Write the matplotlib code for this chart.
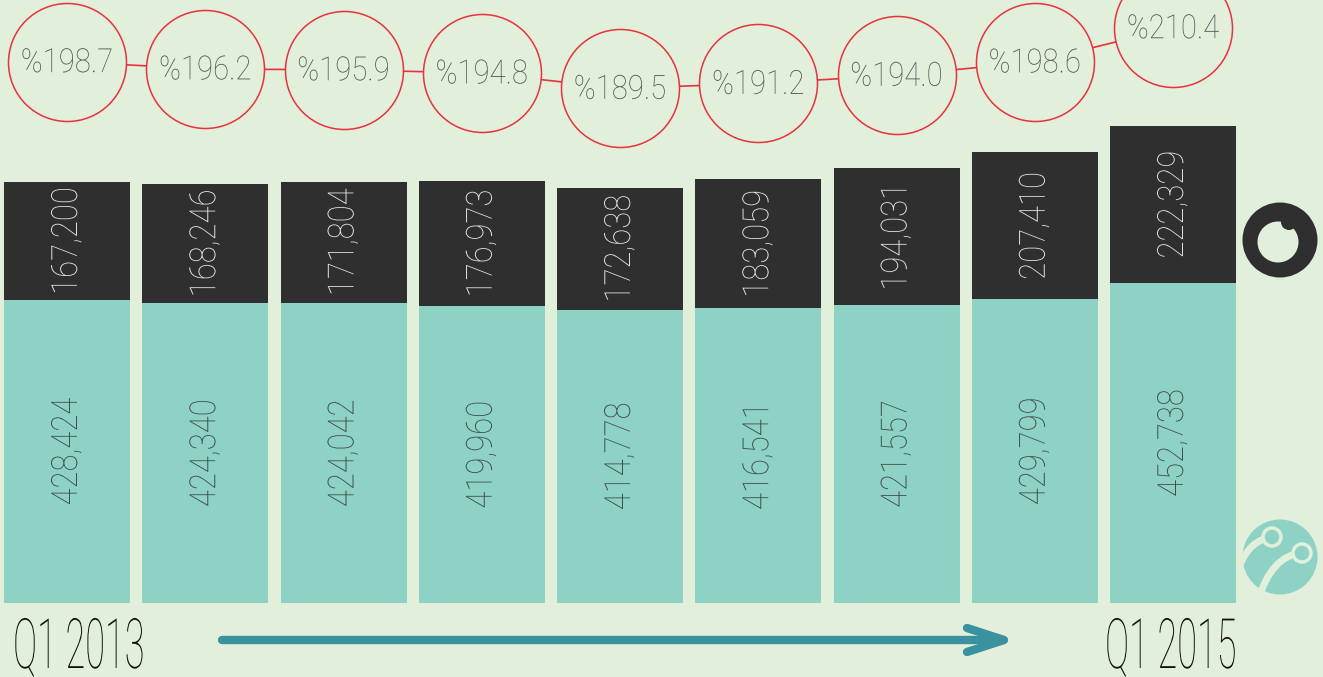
import matplotlib
matplotlib.use("Agg")
import matplotlib.pyplot as plt
from matplotlib.patches import Circle, PathPatch
from matplotlib.path import Path
from matplotlib.patheffects import AbstractPathEffect
from matplotlib.transforms import Affine2D

# ---- data ----
quarters = ['Q1 2013', 'Q2 2013', 'Q3 2013', 'Q4 2013', 'Q1 2014',
            'Q2 2014', 'Q3 2014', 'Q4 2014', 'Q1 2015']
turkcell = [428424, 424340, 424042, 419960, 414778, 416541, 421557, 429799, 452738]
vodafone = [167200, 168246, 171804, 176973, 172638, 183059, 194031, 207410, 222329]
ratio = [198.7, 196.2, 195.9, 194.8, 189.5, 191.2, 194.0, 198.6, 210.4]

BG = '#e2efda'
TEAL = '#8dd2c5'
DARK = '#2f2f2f'
RED = '#e8323e'
GREY = '#555a56'
ARROW = '#3a929e'
FONT = 'Roboto'
FW = 'light'

W, H = 1323, 677
fig = plt.figure(figsize=(W / 100, H / 100), dpi=100, facecolor=BG)


class HStretch(AbstractPathEffect):
    """Narrow the glyphs along the text direction, keeping the chosen anchor."""
    def __init__(self, sx, centered=False):
        super().__init__()
        self.sx = sx
        self.centered = centered

    def draw_path(self, renderer, gc, tpath, affine, rgbFace=None):
        t = Affine2D()
        if self.centered:
            ext = tpath.get_extents()
            cx = (ext.x0 + ext.x1) / 2
            t = t.translate(-cx, 0).scale(self.sx, 1).translate(cx, 0)
        else:
            t = t.scale(self.sx, 1)
        renderer.draw_path(gc, tpath, t + affine, rgbFace)


step = 138.25
x0 = 67.0
xlim = (-x0 / step, (W - x0) / step)
idx = list(range(len(quarters)))

# ---- bars ----
base_px = 74
ax = fig.add_axes([0, base_px / H, 1, (H - base_px) / H])
ax.set_facecolor('none')
ax.set_xlim(*xlim)
ax.set_ylim(0, (H - base_px) * 1413.9)
ax.axis('off')
bw = 126 / step
ax.bar(idx, turkcell, width=bw, color=TEAL, linewidth=0)
ax.bar(idx, vodafone, width=bw, bottom=turkcell, color=DARK, linewidth=0)
pe_bar = [HStretch(0.86, centered=True)]
for i, (t, v) in enumerate(zip(turkcell, vodafone)):
    ax.text(i, t / 2, f"{t:,}", rotation=90, ha='center', va='center',
            fontsize=26, family=FONT, weight=FW, color='#3e4a46',
            path_effects=pe_bar)
    ax.text(i, t + v / 2, f"{v:,}", rotation=90, ha='center', va='center',
            fontsize=26, family=FONT, weight=FW, color='#e6e6e6',
            path_effects=pe_bar)

# ---- ratio circles ----
ax2 = fig.add_axes([0, 0, 1, 1])
ax2.set_facecolor('none')
ax2.set_xlim(*xlim)
ax2.set_ylim(-13.47, 219.98)
ax2.axis('off')
ax2.plot(idx, ratio, color=RED, lw=1.2, zorder=1, clip_on=False)
ax2.scatter(idx, ratio, s=(118 * 0.72) ** 2, facecolor=BG, edgecolor=RED,
            linewidth=1.1, zorder=2, clip_on=False)
pe_pct = [HStretch(0.88, centered=True)]
for i, r in enumerate(ratio):
    ax2.text(i, r - 0.5, f"%{r:.1f}", ha='center', va='center', fontsize=24,
             family=FONT, weight=FW, color=GREY, zorder=3, path_effects=pe_pct)

# ---- decorations (pixel coords) ----
ax3 = fig.add_axes([0, 0, 1, 1])
ax3.set_facecolor('none')
ax3.set_xlim(0, W)
ax3.set_ylim(H, 0)
ax3.axis('off')

# quarter labels
for lbl, xl in ((quarters[0], 13), (quarters[-1], 1105)):
    ax3.text(xl, 668, lbl, ha='left', va='baseline', fontsize=50,
             family=FONT, weight=FW, color='#111111',
             path_effects=[HStretch(0.52)])

# arrow
ax3.plot([222, 1002], [640, 640], color=ARROW, lw=6, solid_capstyle='round')
ax3.plot([967, 1004, 967], [628, 640, 652], color=ARROW, lw=6,
         solid_capstyle='round', solid_joinstyle='round')

# vodafone logo
ax3.add_patch(Circle((1280, 240), 37.5, color=DARK, lw=0))
ax3.add_patch(Circle((1278, 242), 20.5, color=BG, lw=0))
ax3.add_patch(Circle((1289, 222), 8, color=DARK, lw=0))

# turkcell logo
ax3.add_patch(Circle((1280, 557), 37.5, color=TEAL, lw=0))
for (sx, sy), (cx, cy), (ex, ey) in (((1240, 565), (1250, 540), (1272, 537)),
                                      ((1258, 600), (1272, 555), (1302, 553))):
    p = Path([(sx, sy), (cx, cy), (ex, ey)], [Path.MOVETO, Path.CURVE3, Path.CURVE3])
    ax3.add_patch(PathPatch(p, facecolor='none', edgecolor=BG, lw=5))
    ax3.add_patch(Circle((ex, ey), 9, facecolor=TEAL, edgecolor=BG, lw=2.5))

fig.savefig('out.png', dpi=100, facecolor=BG)
